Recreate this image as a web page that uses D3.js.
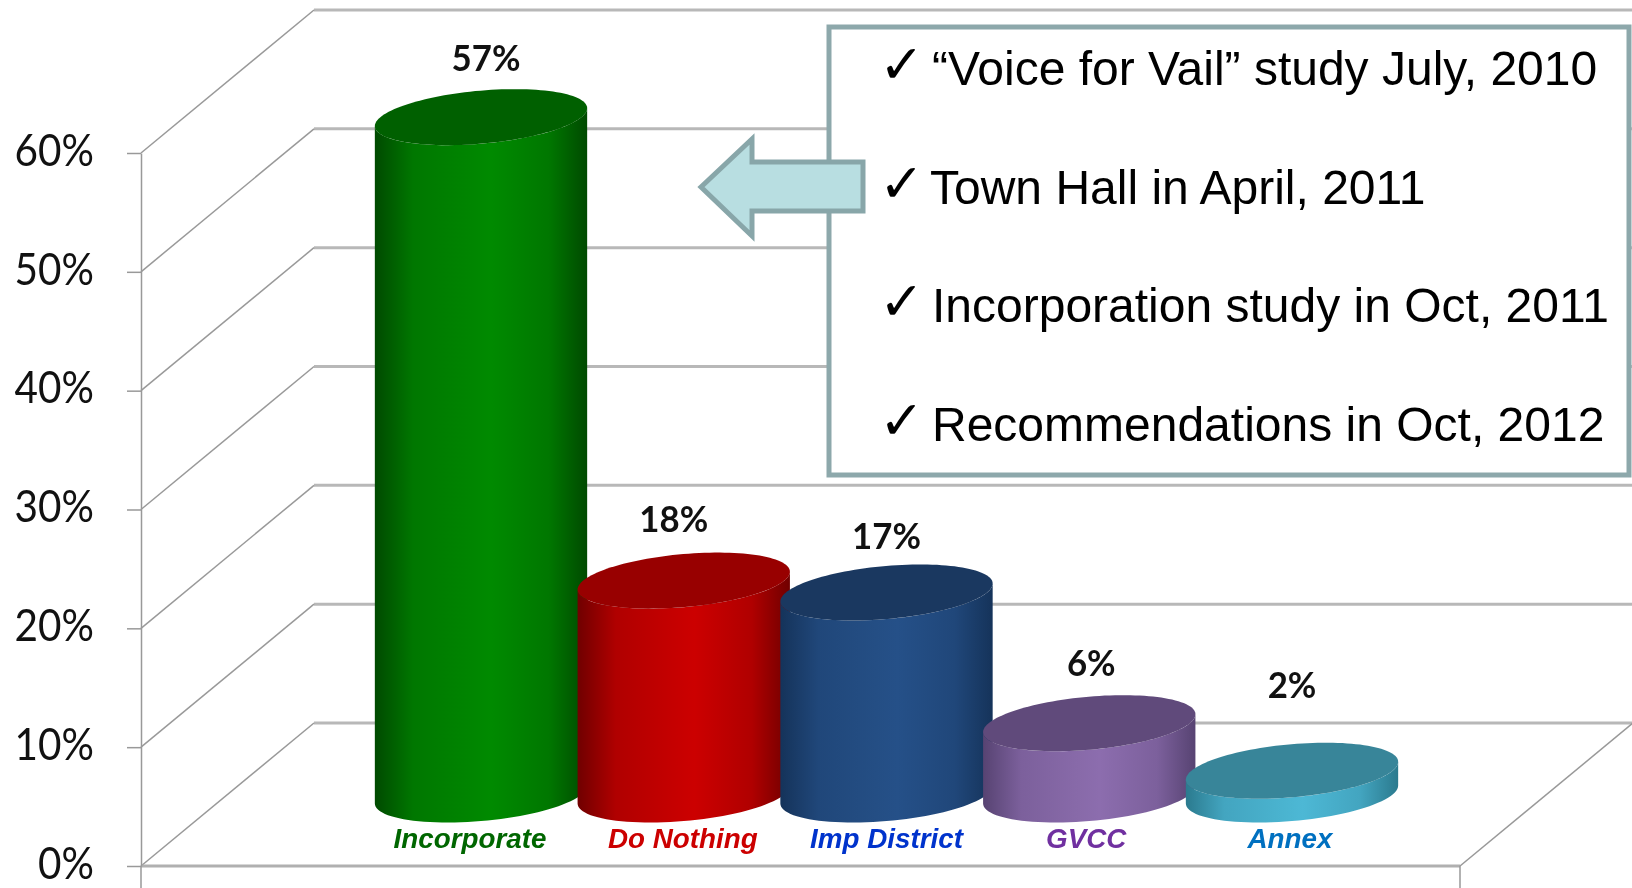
<!DOCTYPE html>
<html>

<head>
	<meta charset="utf-8">
	<script src="https://d3js.org/d3.v7.min.js"></script>
	<style>
		html, body {
			margin: 0;
			padding: 0;
			background: white;
			overflow: hidden;
		}
		svg {
			display: block;
			/* the source picture is an upscaled slide, everything is a bit soft */
			filter: blur(0.6px);
		}
		.tick text {
			font-family: Lato, sans-serif;
			font-size: 44px;
			fill: #111;
		}
		.tick line, .domain {
			stroke: #999;
			stroke-width: 1.5;
		}
		.value {
			font-family: Lato, sans-serif;
			font-weight: bold;
			font-size: 37px;
			fill: #111;
			text-anchor: middle;
		}
		.category {
			font-family: "Liberation Sans", sans-serif;
			font-weight: bold;
			font-style: italic;
			font-size: 27.8px;
			text-anchor: middle;
		}
		.note {
			font-family: "Liberation Sans", sans-serif;
			font-size: 48px;
			fill: #000;
		}
		.check {
			font-family: "DejaVu Sans", sans-serif;
			font-size: 54px;
			fill: #000;
		}
	</style>
</head>

<body>
	<svg></svg>
	<script>
		var categories = ["Incorporate", "Do Nothing", "Imp District", "GVCC", "Annex"];
		var values = [57, 18, 17, 6, 2];
		var yTicks = [0, 10, 20, 30, 40, 50, 60];
		var notes = [
			"\u201CVoice for Vail\u201D study July, 2010",
			"Town Hall in April, 2011",
			"Incorporation study in Oct, 2011",
			"Recommendations in Oct, 2012"
		];

		// colours per bar: side edge, side middle, top cap, category label
		var edgeColors = ["#004a00", "#700000", "#15335a", "#574372", "#2b7a8e"];
		var midColors = ["#008a00", "#cc0000", "#255088", "#8c6dae", "#4db8d5"];
		var capColors = ["#006000", "#980000", "#1a3860", "#604a7b", "#388599"];
		var labelColors = ["#006600", "#cc0000", "#0033cc", "#7030a0", "#0070c0"];

		// hand placed data labels in the original, offset from the bar centre / cap top
		var labelShiftX = [5, -10, 0, 2, 0];
		var labelShiftY = [18, 21, 15, 19, 45];
		var categoryShiftX = [-11, -1, 0, -3, -2];

		var width = 1632;
		var height = 888;

		// depth of the 3d box, floor front edge to back wall
		var depthX = 173;
		var depthY = 143;
		var floorRight = 1460;

		var y = d3.scaleLinear()
			.domain([0, 60])
			.range([866, 153]);
		var x = d3.scalePoint()
			.domain(categories)
			.range([481, 1292]);

		var svg = d3.select("svg")
			.attr("width", width)
			.attr("height", height);

		var defs = svg.append("defs");
		var ramp = [[0, 0], [0.18, 0.7], [0.45, 0.92], [0.55, 1], [0.82, 0.7], [1, 0]];
		categories.forEach((c, i) => {
			var grad = defs.append("linearGradient").attr("id", "side" + i);
			var mix = d3.interpolateRgb(edgeColors[i], midColors[i]);
			ramp.forEach(s => {
				grad.append("stop").attr("offset", s[0]).attr("stop-color", mix(s[1]));
			});
		});

		// Box: back wall grid, left wall diagonals, floor
		var box = svg.append("g");
		box.selectAll(".back")
			.data(yTicks)
			.enter()
			.append("line")
			.attr("x1", 141 + depthX)
			.attr("x2", width)
			.attr("y1", d => y(d) - depthY)
			.attr("y2", d => y(d) - depthY)
			.attr("stroke", "#b8b8b8")
			.attr("stroke-width", 3);
		box.selectAll(".side")
			.data(yTicks)
			.enter()
			.append("line")
			.attr("x1", 141)
			.attr("x2", 141 + depthX)
			.attr("y1", d => y(d))
			.attr("y2", d => y(d) - depthY)
			.attr("stroke", "#999")
			.attr("stroke-width", 1.5);
		box.append("line")
			.attr("x1", 141)
			.attr("x2", floorRight)
			.attr("y1", y(0))
			.attr("y2", y(0))
			.attr("stroke", "#b0b0b0")
			.attr("stroke-width", 3);
		box.append("line")
			.attr("x1", floorRight)
			.attr("x2", floorRight + depthX)
			.attr("y1", y(0))
			.attr("y2", y(0) - depthY)
			.attr("stroke", "#999")
			.attr("stroke-width", 1.5);
		box.append("line")
			.attr("x1", floorRight)
			.attr("x2", floorRight)
			.attr("y1", y(0))
			.attr("y2", height)
			.attr("stroke", "#999")
			.attr("stroke-width", 1.5);
		box.append("line")
			.attr("x1", 141)
			.attr("x2", 141)
			.attr("y1", y(0))
			.attr("y2", height)
			.attr("stroke", "#999")
			.attr("stroke-width", 1.5);

		var axis = d3.axisLeft(y)
			.tickValues(yTicks)
			.tickFormat(d => d + "%")
			.tickSizeInner(14)
			.tickSizeOuter(0)
			.tickPadding(33);
		svg.append("g")
			.attr("transform", "translate(141,0)")
			.call(axis);

		// Calibri is not installed, so squeeze Lato to its narrower look
		function squeeze(sel, k) {
			sel.each(function () {
				d3.select(this)
					.attr("textLength", this.getComputedTextLength() * k)
					.attr("lengthAdjust", "spacingAndGlyphs");
			});
		}
		svg.selectAll(".tick text").attr("dy", "0.28em");
		squeeze(svg.selectAll(".tick text"), 0.92);

		// Cylinder ends are circles lying on the floor, so they skew with the depth direction
		var radiusX = 100.6;
		var radiusD = 0.196;
		var baseY = y(0) - depthY / 2;
		var skewX = radiusD * depthX;
		var skewY = radiusD * depthY;
		var extremeT = Math.atan2(skewX, radiusX);

		function ringPoint(cx, cy, t) {
			return [cx + radiusX * Math.cos(t) + skewX * Math.sin(t), cy - skewY * Math.sin(t)];
		}
		var line = d3.line();

		function ring(cx, cy) {
			return line(d3.range(0, 2 * Math.PI, 0.05).map(t => ringPoint(cx, cy, t))) + "Z";
		}
		function body(cx, topY, botY) {
			// right silhouette point, round the lower front, to the left one, then up
			var lower = d3.range(0, 1.0001, 0.02).map(k => ringPoint(cx, botY, extremeT - k * Math.PI));
			var upper = d3.range(0, 1.0001, 0.02).map(k => ringPoint(cx, topY, extremeT - Math.PI + k * Math.PI));
			return line(lower.concat(upper)) + "Z";
		}

		var bars = svg.selectAll(".bar")
			.data(categories)
			.enter()
			.append("g")
			.attr("class", "bar");
		bars.append("path")
			.attr("d", (d, i) => body(x(d), baseY - (y(0) - y(values[i])), baseY))
			.attr("fill", (d, i) => "url(#side" + i + ")");
		bars.append("path")
			.attr("d", (d, i) => ring(x(d), baseY - (y(0) - y(values[i]))))
			.attr("fill", (d, i) => capColors[i]);

		svg.selectAll(".value")
			.data(categories)
			.enter()
			.append("text")
			.attr("class", "value")
			.attr("x", (d, i) => x(d) + labelShiftX[i])
			.attr("y", (d, i) => baseY - (y(0) - y(values[i])) - skewY - labelShiftY[i])
			.text((d, i) => values[i] + "%")
			.call(squeeze, 0.94);

		svg.selectAll(".category")
			.data(categories)
			.enter()
			.append("text")
			.attr("class", "category")
			.attr("x", (d, i) => x(d) + categoryShiftX[i])
			.attr("y", 848)
			.attr("fill", (d, i) => labelColors[i])
			.text(d => d);

		// Callout box with the check list, arrow sits over its left edge
		svg.append("rect")
			.attr("x", 829)
			.attr("y", 27)
			.attr("width", 800)
			.attr("height", 448)
			.attr("fill", "white")
			.attr("stroke", "#8da8ab")
			.attr("stroke-width", 5);

		var noteY = d3.scalePoint()
			.domain(notes)
			.range([85, 441]);
		var noteX = [932, 930, 932, 932];
		svg.selectAll(".note")
			.data(notes)
			.enter()
			.append("text")
			.attr("class", "note")
			.attr("x", (d, i) => noteX[i])
			.attr("y", d => noteY(d))
			.text(d => d);
		svg.selectAll(".check")
			.data(notes)
			.enter()
			.append("text")
			.attr("class", "check")
			.attr("x", 879)
			.attr("y", d => noteY(d) - 2)
			.text("\u2713");

		svg.append("path")
			.attr("d", "M701,187L752,139V162H863V211H752V236Z")
			.attr("fill", "#b8dee1")
			.attr("stroke", "#88a6a9")
			.attr("stroke-width", 5);
	</script>
</body>

</html>
